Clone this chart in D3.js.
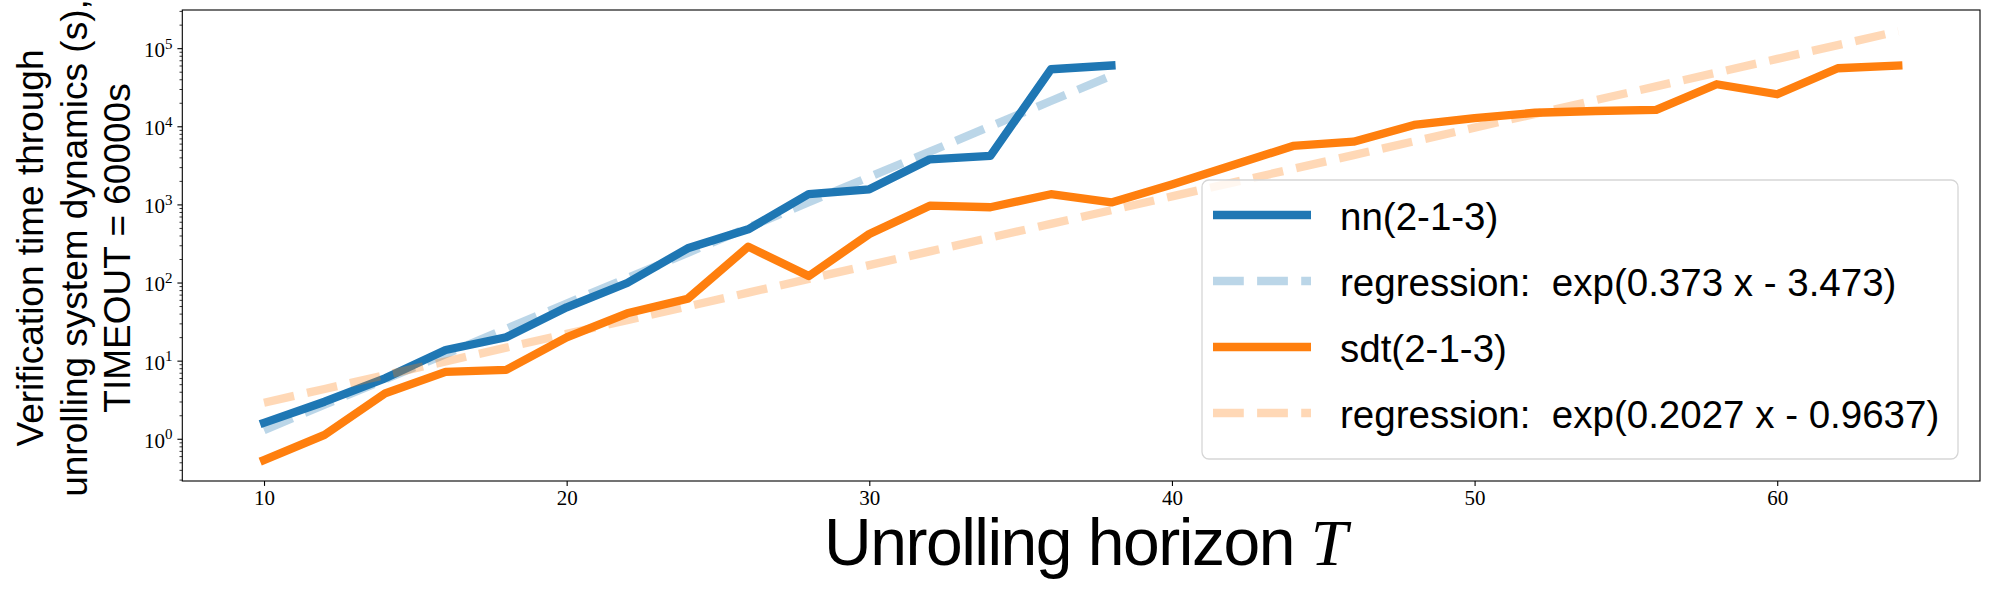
<!DOCTYPE html>
<html>
<head>
<meta charset="utf-8">
<script src="https://cdn.jsdelivr.net/npm/d3@7"></script>
<style>
  html, body { margin: 0; padding: 0; background: #fff; }
  svg { display: block; }
</style>
</head>
<body>
<svg id="chart" width="1990" height="590"></svg>
<script>
// ---------------- data ----------------
const nnT = [10, 12, 14, 16, 18, 20, 22, 24, 26, 28, 30, 32, 34, 36, 38];
const nnTime = [1.60, 2.98, 5.94, 13.7, 19.9, 48.2, 98.6, 274, 480, 1358, 1562, 3780, 4170, 53700, 60000];
const nnRegTime = [1.293, 2.727, 5.749, 12.12, 25.56, 53.9, 113.6, 239.6, 505.2, 1065, 2246, 4737, 9987, 21060, 44400];

const sdtT = [10, 12, 14, 16, 18, 20, 22, 24, 26, 28, 30, 32, 34, 36, 38, 40, 42, 44, 46, 48, 50, 52, 54, 56, 58, 60, 62, 64];
const sdtTime = [0.535, 1.12, 3.82, 7.2, 7.6, 19.9, 40.4, 62, 288, 121, 418, 964, 919, 1350, 1060, 1800, 3170, 5600, 6350, 10400, 12700, 14900, 15700, 16200, 34500, 25700, 55300, 60000];
const sdtRegTime = [2.896, 4.344, 6.516, 9.772, 14.66, 21.99, 32.98, 49.46, 74.19, 111.3, 166.9, 250.3, 375.5, 563.2, 844.7, 1267, 1900, 2850, 4275, 6412, 9617, 14425, 21636, 32450, 48670, 73000, 109500, 164200];

const seriesNames = ["nn(2-1-3)", "regression:  exp(0.373 x - 3.473)", "sdt(2-1-3)", "regression:  exp(0.2027 x - 0.9637)"];
const xTicks = [10, 20, 30, 40, 50, 60];
const yTickExps = [0, 1, 2, 3, 4, 5];
const xDomain = [7.3, 66.7];
const yDomain = [0.288, 308000];

// ---------------- layout ----------------
const svg = d3.select("#chart");
const L = 182.3, R = 1980, T = 10, B = 481;
const blue = "#1f77b4", orange = "#ff7f0e";
const lw = 8.3;
const dash = "30.8,13.3";

svg.append("rect").attr("width", 1990).attr("height", 590).attr("fill", "#fff");

const x = d3.scaleLinear().domain(xDomain).range([L, R]);
const y = d3.scaleLog().domain(yDomain).range([B, T]);

const plot = svg.append("g");
plot.append("clipPath").attr("id", "clip").append("rect")
  .attr("x", L).attr("y", T).attr("width", R - L).attr("height", B - T);
const g = plot.append("g").attr("clip-path", "url(#clip)");

const line = d3.line().x(d => x(d[0])).y(d => y(d[1]));
const zip = (a, b) => a.map((v, i) => [v, b[i]]);

const series = [
  { pts: zip(nnT, nnTime), color: blue, op: 1, dashed: false },
  { pts: zip(nnT, nnRegTime), color: blue, op: 0.3, dashed: true },
  { pts: zip(sdtT, sdtTime), color: orange, op: 1, dashed: false },
  { pts: zip(sdtT, sdtRegTime), color: orange, op: 0.3, dashed: true }
];

series.forEach(s => {
  g.append("path")
    .attr("d", line(s.pts))
    .attr("fill", "none")
    .attr("stroke", s.color)
    .attr("stroke-opacity", s.op)
    .attr("stroke-width", lw)
    .attr("stroke-linejoin", "round")
    .attr("stroke-linecap", s.dashed ? "butt" : "square")
    .attr("stroke-dasharray", s.dashed ? dash : null);
});

// ---------------- axes ----------------
const tickFont = "'Liberation Serif', 'DejaVu Serif', serif";

// x axis
const xAxis = d3.axisBottom(x).tickValues(xTicks).tickSize(4.9).tickPadding(4).tickFormat(d3.format("d"));
const gx = svg.append("g").attr("transform", `translate(0,${B})`).call(xAxis);
gx.select(".domain").remove();
gx.selectAll(".tick line").attr("stroke", "#000").attr("stroke-width", 1.1);
gx.selectAll(".tick text").attr("font-family", tickFont).attr("font-size", 21).attr("fill", "#000");

// y axis major
const yMajor = yTickExps.map(e => Math.pow(10, e));
const yAxis = d3.axisLeft(y).tickValues(yMajor).tickSize(4.9).tickPadding(5).tickFormat(() => "");
const gy = svg.append("g").attr("transform", `translate(${L},0)`).call(yAxis);
gy.select(".domain").remove();
gy.selectAll(".tick line").attr("stroke", "#000").attr("stroke-width", 1.1);
gy.selectAll(".tick text").each(function(d) {
  const t = d3.select(this);
  t.attr("font-family", tickFont).attr("font-size", 21).attr("fill", "#000").attr("dy", "0.4em");
  t.append("tspan").text("10");
  t.append("tspan").attr("font-size", 15).attr("dy", "-0.55em").text(String(Math.round(Math.log10(d))));
});

// y minor ticks
const minor = [];
for (let e = -1; e <= 5; e++) for (let m = 2; m <= 9; m++) {
  const v = m * Math.pow(10, e);
  if (v >= yDomain[0] && v <= yDomain[1]) minor.push(v);
}
const yMinorAxis = d3.axisLeft(y).tickValues(minor).tickSize(2.8).tickFormat(() => "");
const gym = svg.append("g").attr("transform", `translate(${L},0)`).call(yMinorAxis);
gym.select(".domain").remove();
gym.selectAll(".tick line").attr("stroke", "#000").attr("stroke-width", 0.8);

// frame
svg.append("rect").attr("x", L).attr("y", T).attr("width", R - L).attr("height", B - T)
  .attr("fill", "none").attr("stroke", "#000").attr("stroke-width", 1.1);

// ---------------- labels ----------------
const sansFont = "'Liberation Sans', 'DejaVu Sans', sans-serif";
const xl = svg.append("text").attr("x", 1085).attr("y", 565).attr("text-anchor", "middle")
  .attr("font-family", sansFont).attr("font-size", 66).attr("letter-spacing", -1.5).attr("fill", "#000");
xl.append("tspan").text("Unrolling horizon ");
xl.append("tspan").attr("font-family", tickFont).attr("font-style", "italic").text("T");

const ylines = ["Verification time through", "unrolling system dynamics (s),", "TIMEOUT = 60000s"];
const yl = svg.append("text").attr("transform", "translate(0,248) rotate(-90)")
  .attr("text-anchor", "middle").attr("font-family", sansFont).attr("font-size", 37).attr("fill", "#000");
ylines.forEach((s, i) => {
  yl.append("tspan").attr("x", 0).attr("y", 43 + i * 43.5).text(s);
});

// ---------------- legend ----------------
const lg = svg.append("g");
lg.append("rect").attr("x", 1202).attr("y", 180).attr("width", 756).attr("height", 279).attr("rx", 7)
  .attr("fill", "#fff").attr("fill-opacity", 0.8).attr("stroke", "#d6d6d6").attr("stroke-width", 1.3);
seriesNames.forEach((name, i) => {
  const s = series[i];
  const yy = 215 + i * 66;
  lg.append("line").attr("x1", 1213).attr("x2", 1311).attr("y1", yy).attr("y2", yy)
    .attr("stroke", s.color).attr("stroke-opacity", s.op).attr("stroke-width", lw)
    .attr("stroke-linecap", "butt").attr("stroke-dasharray", s.dashed ? dash : null);
  lg.append("text").attr("x", 1340).attr("y", yy + 15).attr("xml:space", "preserve")
    .attr("font-family", sansFont).attr("font-size", 38.5).attr("fill", "#000").text(name);
});
</script>
</body>
</html>
